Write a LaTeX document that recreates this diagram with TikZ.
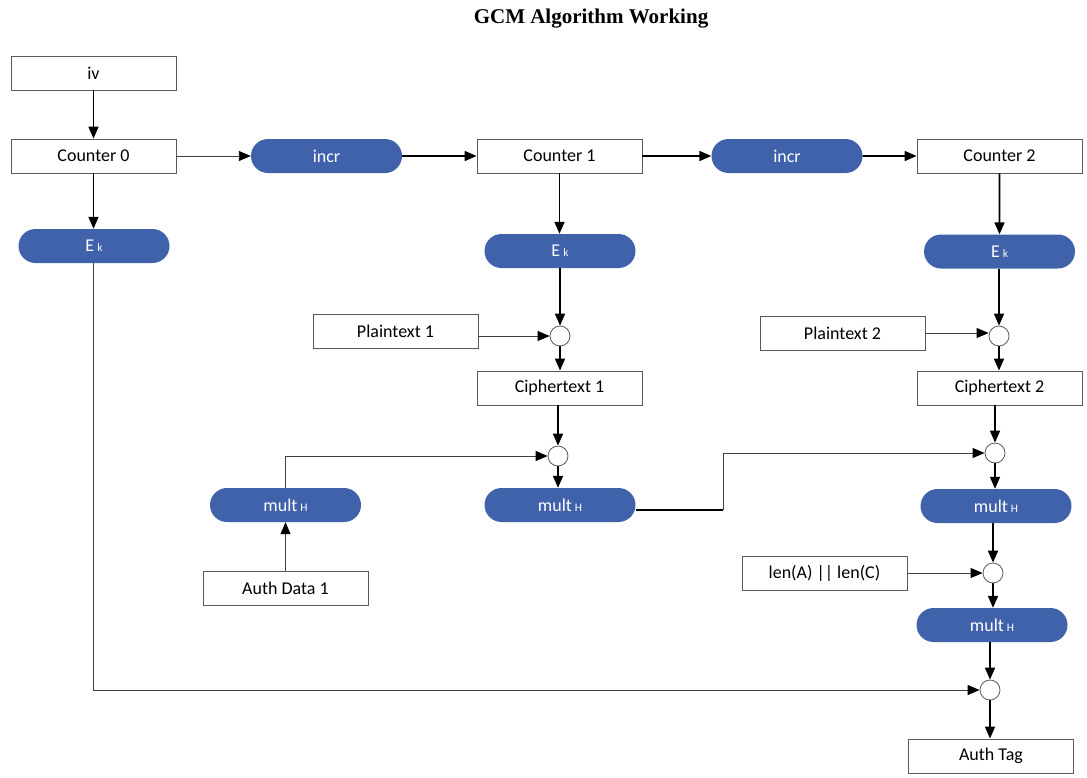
\documentclass[tikz,border=0pt]{standalone}
\usepackage{fontspec}
\setmainfont{Carlito}
\newfontfamily\titlefont{Liberation Serif}
\usetikzlibrary{shapes.misc,arrows.meta}
\definecolor{pillblue}{RGB}{63,98,171}
\definecolor{boxline}{RGB}{90,90,90}
\begin{document}
\begin{tikzpicture}[x=1pt,y=-1pt,
  lbl/.style={font=\fontsize{18}{21}\selectfont},
  box/.style={draw=boxline,line width=0.9pt,rectangle,minimum width=165pt,minimum height=34pt,inner sep=0pt,lbl,text=black},
  pill/.style={rounded rectangle,fill=pillblue,draw=none,minimum width=151pt,minimum height=34pt,inner sep=0pt,lbl,text=white},
  xorc/.style={circle,draw=boxline,line width=0.8pt,fill=white,minimum size=20pt,inner sep=0pt},
  thk/.style={line width=1.7pt,-{Triangle[length=12pt,width=10pt]}},
  thn/.style={line width=0.9pt,draw=black!75,-{Triangle[length=12pt,width=10pt,color=black]}},
  plain/.style={line width=1.7pt}]
\useasboundingbox (0,0) rectangle (1087,777);
\newcommand{\sm}[1]{\,{\fontsize{11.5}{12}\selectfont #1}}
\node[font=\titlefont\bfseries\fontsize{21}{24}\selectfont] (title) at (591,18.5) {GCM Algorithm Working};
% column 0
\node[box] (iv) at (93.5,73) {iv};
\node[box] (c0) at (93.5,156) {Counter 0};
\node[pill] (ek0) at (94,246) {E\sm{k}};
\node[pill] (inc1) at (326.5,156) {incr};
% column 1
\node[box] (c1) at (559.5,156) {Counter 1};
\node[pill] (ek1) at (560,251) {E\sm{k}};
\node[box] (pt1) at (395.5,331) {Plaintext 1};
\node[xorc] (x1) at (560,336) {};
\node[box] (ct1) at (559.5,388) {Ciphertext 1};
\node[xorc] (x3) at (558,456) {};
\node[pill] (mh1) at (285.5,505) {mult\sm{H}};
\node[pill] (mh2) at (560,505) {mult\sm{H}};
\node[box] (ad1) at (285.5,588) {Auth Data 1};
\node[pill] (inc2) at (787,156) {incr};
% column 2
\node[box] (c2) at (999.5,156) {Counter 2};
\node[pill] (ek2) at (999.5,251.5) {E\sm{k}};
\node[box] (pt2) at (842.5,333) {Plaintext 2};
\node[xorc] (x2) at (999,336) {};
\node[box] (ct2) at (999.5,388) {Ciphertext 2};
\node[xorc] (x4) at (995,453) {};
\node[pill] (mh3) at (996,506) {mult\sm{H}};
\node[box] (len) at (824.5,573) {len(A) || len(C)};
\node[xorc] (x6) at (993,573) {};
\node[pill] (mh4) at (992,625) {mult\sm{H}};
\node[xorc] (x5) at (990,690) {};
\node[box] (tag) at (991,756) {Auth Tag};
\coordinate (b1) at (723,510);
\coordinate (e0) at (93,263);
% connectors
\draw[thk] (iv) -- (c0);
\draw[thk] (c0.south) -- (c0.south |- ek0.north);
\draw[thn] (c0) -- (inc1);
\draw[thk] (inc1) -- (c1);
\draw[thk] (c1) -- (inc2);
\draw[thk] (inc2) -- (c2);
\draw[thk] (c1) -- (c1 |- ek1.north);
\draw[thk] (ek1) -- (x1);
\draw[thn] (pt1.east |- x1) -- (x1);
\draw[thk] (x1) -- (x1 |- ct1.north);
\draw[thk] (ct1.south -| x3) -- (x3);
\draw[thn] (mh1.north) |- (x3);
\draw[thn] (ad1) -- (mh1);
\draw[thk] (x3) -- (x3 |- mh2.north);
\draw[plain] (mh2.east |- b1) -- (b1);
\draw[thn] (b1) |- (x4);
\draw[thk] (c2) -- (ek2);
\draw[thk] (ek2.south -| x2) -- (x2);
\draw[thn] (pt2) -- (pt2 -| x2.west);
\draw[thk] (x2) -- (x2 |- ct2.north);
\draw[thk] (ct2.south -| x4) -- (x4);
\draw[thk] (x4) -- (x4 |- mh3.north);
\draw[thk] (mh3.south -| x6) -- (x6);
\draw[thn] (len) -- (x6);
\draw[thk] (x6) -- (x6 |- mh4.north);
\draw[thk] (mh4.south -| x5) -- (x5);
\draw[thn] (e0) |- (x5);
\draw[thk] (x5) -- (x5 |- tag.north);
\end{tikzpicture}
\end{document}
